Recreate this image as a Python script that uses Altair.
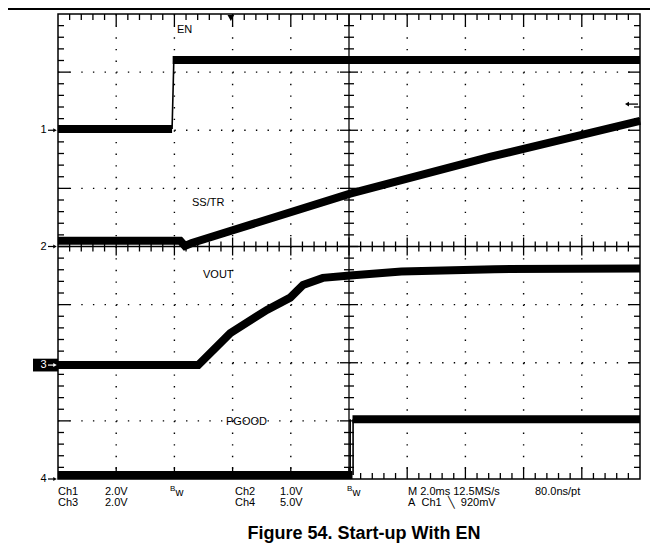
import altair as alt
import pandas as pd
import numpy as np

# ---------------- data (screen divisions: x 0..10, y 0..8) ----------------
EN_LOW_X = [0.0, 1.96]
EN_LOW_Y = [6.02, 6.02]
EN_EDGE_X = [1.96, 1.975, 1.99]
EN_EDGE_Y = [6.02, 6.60, 7.21]
EN_HIGH_X = [1.97, 10.0]
EN_HIGH_Y = [7.21, 7.21]

SS_X = [0.0, 2.10, 2.18, 2.30, 5.02, 7.42, 10.0]
SS_Y = [4.10, 4.10, 4.01, 4.06, 4.91, 5.54, 6.16]

VOUT_X = [0.0, 2.41, 2.96, 3.59, 3.99, 4.21, 4.55, 5.02, 5.90, 7.50, 10.0]
VOUT_Y = [1.96, 1.96, 2.51, 2.91, 3.12, 3.34, 3.46, 3.50, 3.57, 3.61, 3.62]

PG_LOW_X = [0.0, 5.06]
PG_LOW_Y = [0.07, 0.07]
PG_EDGE1_X = [5.02, 5.02]
PG_EDGE2_X = [5.07, 5.07]
PG_EDGE_Y = [0.07, 1.03]
PG_HIGH_X = [5.06, 10.0]
PG_HIGH_Y = [1.03, 1.03]

CH_NAMES = ["1", "2", "3", "4"]
CH_LEVELS = [6.0, 4.0, 1.96, 0.0]

TRACE_LABELS = ["EN", "SS/TR", "VOUT", "PGOOD"]
TRIG_POS = 2.97
TRIG_LEVEL = 6.45

NB = "\u00a0"
INFO_ROW1 = ["Ch1", "2.0V", "Ch2", "1.0V", "M 2.0ms 12.5MS/s", "80.0ns/pt"]
INFO_ROW2 = ["Ch3", "2.0V", "Ch4", "5.0V", "A" + NB * 2 + "Ch1" + NB * 2 + "\u2572" + NB * 2 + "920mV"]
TITLE = "Figure 54. Start-up With EN"

# ---------------- geometry ----------------
W, H = 582, 465
PX = W / 10.0
PY = H / 8.0
def dx(page_x):
    return (page_x - 58) / PX
def dy(page_y):
    return (479 - page_y) / PY

FONT = "Liberation Sans"
XS = alt.Scale(domain=[0, 10], nice=False, zero=False)
YS = alt.Scale(domain=[0, 8], nice=False, zero=False)
def X(f="x"):
    return alt.X(f"{f}:Q", scale=XS, axis=None)
def Y(f="y"):
    return alt.Y(f"{f}:Q", scale=YS, axis=None)

layers = []

# ---------------- graticule ----------------
vgrid = pd.DataFrame({"x": [1, 2, 3, 4, 6, 7, 8, 9]})
layers.append(alt.Chart(vgrid).mark_rule(color="black", strokeWidth=1.4, strokeDash=[1.4, PY / 5 - 1.4]).encode(
    x=X(), y=alt.value(0), y2=alt.value(H)))
hgrid = pd.DataFrame({"y": [1, 2, 3, 5, 6, 7]})
layers.append(alt.Chart(hgrid).mark_rule(color="black", strokeWidth=1.4, strokeDash=[1.4, PX / 5 - 1.4]).encode(
    y=Y(), x=alt.value(0), x2=alt.value(W)))

# centre cross
layers.append(alt.Chart(pd.DataFrame({"x": [5]})).mark_rule(color="black", strokeWidth=1.3).encode(
    x=X(), y=alt.value(0), y2=alt.value(H)))
layers.append(alt.Chart(pd.DataFrame({"y": [4]})).mark_rule(color="black", strokeWidth=1.3).encode(
    y=Y(), x=alt.value(0), x2=alt.value(W)))

xt = np.round(np.arange(0.2, 10.0, 0.2), 2)
yt = np.round(np.arange(0.2, 8.0, 0.2), 2)
xt_min = pd.DataFrame({"x": [v for v in xt if abs(v - round(v)) > 1e-6]})
xt_maj = pd.DataFrame({"x": [v for v in xt if abs(v - round(v)) < 1e-6]})
yt_min = pd.DataFrame({"y": [v for v in yt if abs(v - round(v)) > 1e-6]})
yt_maj = pd.DataFrame({"y": [v for v in yt if abs(v - round(v)) < 1e-6]})

def vt(df, a, b, w=1.3):
    return alt.Chart(df).mark_rule(color="black", strokeWidth=w).encode(x=X(), y=alt.value(a), y2=alt.value(b))
def ht(df, a, b, w=1.3):
    return alt.Chart(df).mark_rule(color="black", strokeWidth=w).encode(y=Y(), x=alt.value(a), x2=alt.value(b))

cy = H / 2
cx = W / 2
layers += [
    vt(xt_min, 0, 6), vt(xt_maj, 0, 12),
    vt(xt_min, H, H - 6), vt(xt_maj, H, H - 12),
    ht(yt_min, 0, 6), ht(yt_maj, 0, 12),
    ht(yt_min, W, W - 6), ht(yt_maj, W, W - 12),
    vt(xt_min, cy - 5, cy + 5), vt(xt_maj, cy - 9, cy + 9),
    ht(yt_min, cx - 5, cx + 5), ht(yt_maj, cx - 9, cx + 9),
]

# ---------------- traces ----------------
def seg(name, xs, ys):
    return pd.DataFrame({"seg": name, "i": range(len(xs)), "x": xs, "y": ys})

thick = pd.concat([
    seg("en_low", EN_LOW_X, EN_LOW_Y),
    seg("en_high", EN_HIGH_X, EN_HIGH_Y),
    seg("ss", SS_X, SS_Y),
    seg("vout", VOUT_X, VOUT_Y),
    seg("pg_low", PG_LOW_X, PG_LOW_Y),
    seg("pg_high", PG_HIGH_X, PG_HIGH_Y),
])
thin = pd.concat([
    seg("en_edge", EN_EDGE_X, EN_EDGE_Y),
    seg("pg_e1", PG_EDGE1_X, PG_EDGE_Y),
    seg("pg_e2", PG_EDGE2_X, PG_EDGE_Y),
])
layers.append(alt.Chart(thick).mark_line(color="black", strokeWidth=8, strokeCap="butt", strokeJoin="miter").encode(
    x=X(), y=Y(), detail="seg:N", order="i:Q"))
layers.append(alt.Chart(thin).mark_line(color="black", strokeWidth=1.6).encode(
    x=X(), y=Y(), detail="seg:N", order="i:Q"))

# ---------------- labels on screen ----------------
lab = pd.DataFrame({
    "t": TRACE_LABELS,
    "x": [dx(177), dx(192), dx(203), dx(226)],
    "y": [dy(30), dy(203), dy(275), dy(422)],
})
layers.append(alt.Chart(lab).mark_text(align="left", baseline="middle", font=FONT, fontSize=11, color="black").encode(
    x=X(), y=Y(), text="t:N"))

# trigger markers
layers.append(alt.Chart(pd.DataFrame({"x": [TRIG_POS]})).mark_point(shape="triangle-down", filled=True, color="black", size=45, opacity=1).encode(
    x=X(), y=alt.value(4)))
layers.append(alt.Chart(pd.DataFrame({"y": [TRIG_LEVEL]})).mark_rule(color="black", strokeWidth=1.3).encode(
    y=Y(), x=alt.value(W - 12), x2=alt.value(W - 2)))
layers.append(alt.Chart(pd.DataFrame({"y": [TRIG_LEVEL]})).mark_point(shape="triangle-left", filled=True, color="black", size=22, opacity=1).encode(
    y=Y(), x=alt.value(W - 13)))

# channel markers
chdf = pd.DataFrame({"t": CH_NAMES, "y": CH_LEVELS,
                     "inv": [False, False, True, False]})
chdf["y0"] = chdf["y"] - 0.11
chdf["y1"] = chdf["y"] + 0.11
chdf["xa"] = dx(33)
chdf["xb"] = 0.0
chdf["xt"] = dx(46.5)
box = chdf[chdf["inv"]]
layers.append(alt.Chart(box).mark_rect(color="black").encode(
    x=X("xa"), x2="xb:Q", y=Y("y0"), y2="y1:Q"))
col = alt.condition("datum.inv", alt.value("white"), alt.value("black"))
layers.append(alt.Chart(chdf).mark_text(align="right", baseline="middle", font=FONT, fontSize=11).encode(
    x=X("xt"), y=Y(), text="t:N", color=col))
layers.append(alt.Chart(chdf).mark_rule(strokeWidth=1.2).encode(
    y=Y(), x=alt.value(-10), x2=alt.value(-4), color=col))
layers.append(alt.Chart(chdf).mark_point(shape="triangle-right", filled=True, size=16, opacity=1).encode(
    y=Y(), x=alt.value(-3), color=col))

# ---------------- info text & title ----------------
info = pd.DataFrame({
    "t": INFO_ROW1 + INFO_ROW2,
    "x": [dx(v) for v in [58, 105, 235, 280, 408, 535, 58, 105, 235, 280, 408]],
    "y": [dy(492)] * len(INFO_ROW1) + [dy(503)] * len(INFO_ROW2),
})
layers.append(alt.Chart(info).mark_text(align="left", baseline="middle", font=FONT, fontSize=11, color="black").encode(
    x=X(), y=Y(), text="t:N"))
bw_b = pd.DataFrame({"t": ["B", "B"], "x": [dx(170), dx(347)], "y": [dy(489), dy(489)]})
bw_w = pd.DataFrame({"t": ["w", "w"], "x": [dx(175.5), dx(352.5)], "y": [dy(492.5), dy(492.5)]})
layers.append(alt.Chart(bw_b).mark_text(align="left", baseline="middle", font=FONT, fontSize=8, color="black").encode(
    x=X(), y=Y(), text="t:N"))
layers.append(alt.Chart(bw_w).mark_text(align="left", baseline="middle", font=FONT, fontSize=11, color="black").encode(
    x=X(), y=Y(), text="t:N"))

layers.append(alt.Chart(pd.DataFrame({"t": [TITLE], "x": [dx(364)], "y": [dy(534)]})).mark_text(
    align="center", baseline="middle", font=FONT, fontSize=18, fontWeight="bold", color="black").encode(
    x=X(), y=Y(), text="t:N"))

# top page rule
layers.append(alt.Chart(pd.DataFrame({"y": [dy(9)]})).mark_rule(color="black", strokeWidth=2).encode(
    y=Y(), x=alt.value(-50), x2=alt.value(W + 10)))

chart = alt.layer(*layers).properties(
    width=W, height=H,
    padding={"left": 50, "top": 6, "right": 10, "bottom": 70},
    autosize=alt.AutoSizeParams(type="none"),
    background="white",
).configure_view(stroke="black", strokeWidth=1.5)

chart.save("out.html", embed_options={"renderer": "svg", "actions": False})
